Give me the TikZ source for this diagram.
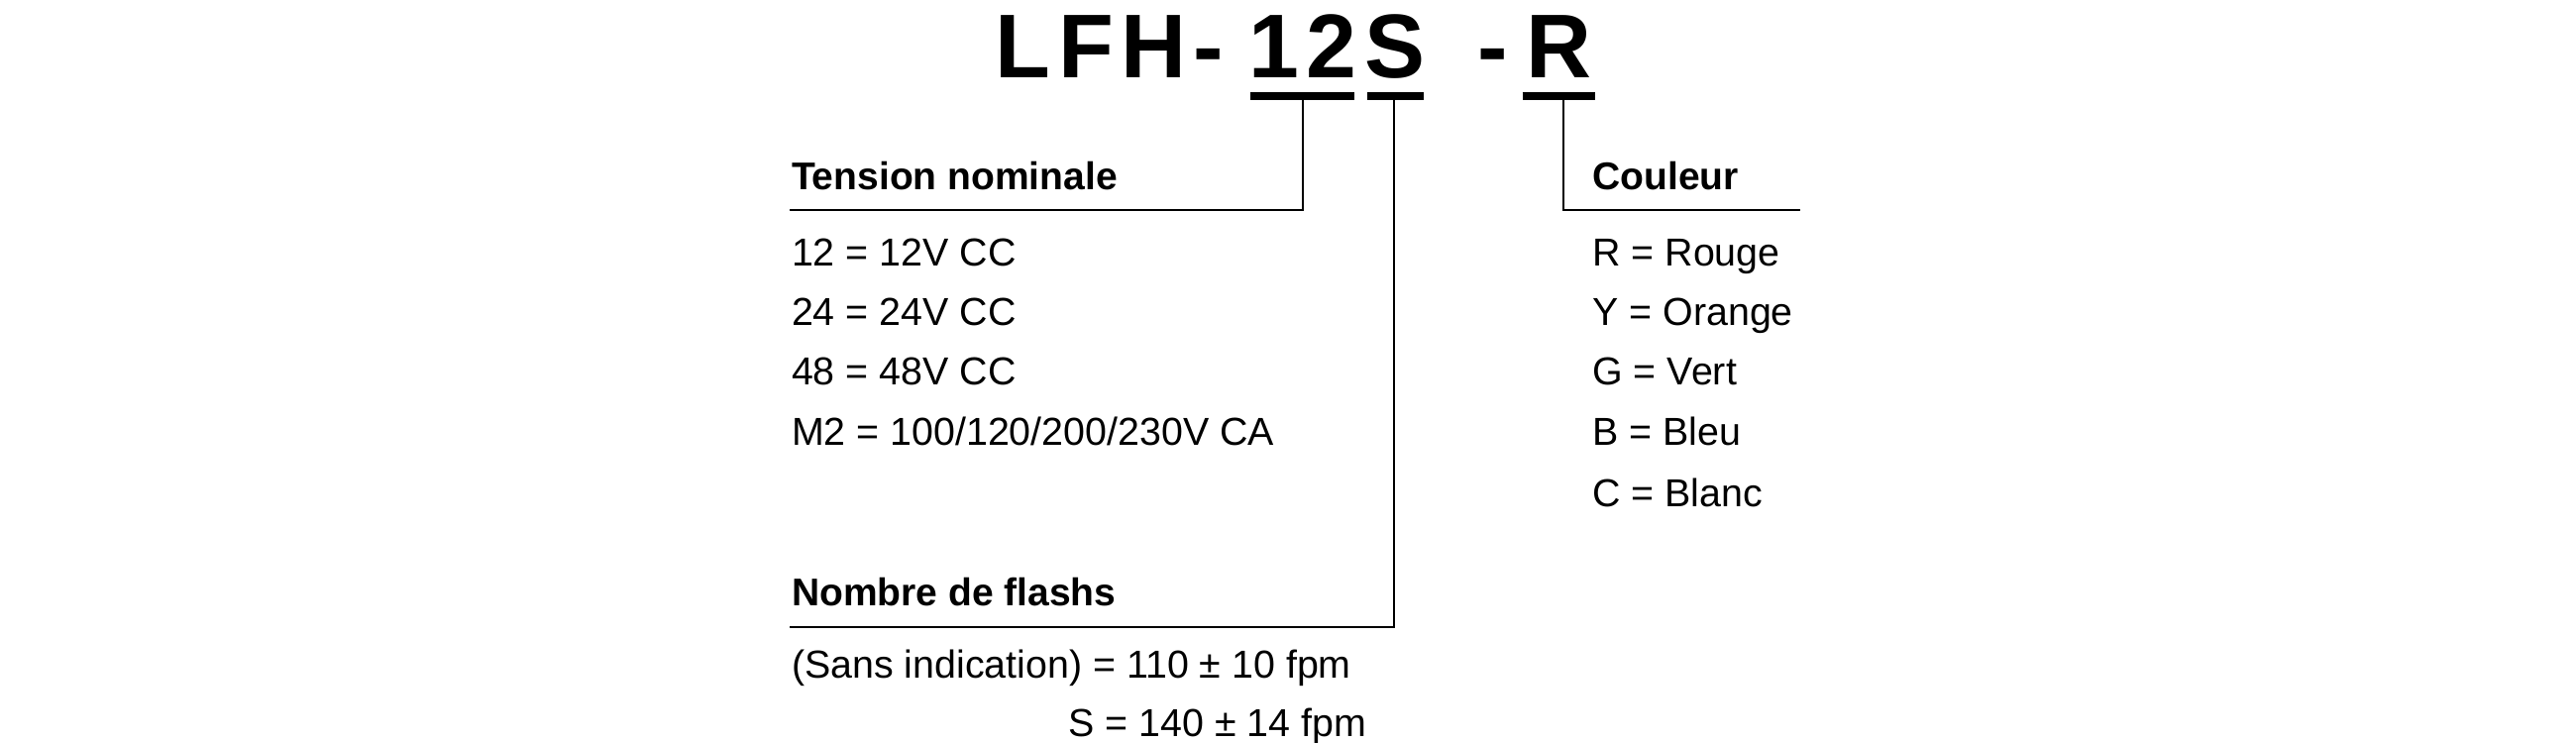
\documentclass[tikz,border=0pt]{standalone}
\usepackage{fontspec}
\setmainfont{Liberation Sans}
\newfontfamily\titlefont[LetterSpace=8]{Liberation Sans}
\usetikzlibrary{positioning}
\tikzset{
  codepart/.style={inner sep=0pt,anchor=base,font=\titlefont\bfseries\fontsize{26}{26}\selectfont},
  head/.style={inner sep=0pt,anchor=base west,font=\bfseries\fontsize{11.1}{13}\selectfont},
  item/.style={inner sep=0pt,anchor=base west,font=\fontsize{11.2}{13}\selectfont},
  lead/.style={line width=0.6pt},
  uline/.style={line width=2.2pt}
}
\begin{document}
\begin{tikzpicture}[x=0.016667cm,y=-0.016667cm]
    \useasboundingbox (0,0) rectangle (1560,450);
    % model code
    \node[codepart] (lfh) at (672,47) {LFH-};
    \node[codepart] (twelve) at (789,47) {12};
    \node[codepart] (s) at (845,47) {S};
    \node[codepart] (dash) at (904,47) {-};
    \node[codepart] (r) at (944,47) {R};
    \coordinate (tw) at (757,58); \coordinate (te) at (820,58);
    \coordinate (sw) at (828,58); \coordinate (se) at (862,58);
    \coordinate (rw) at (922,58); \coordinate (re) at (966,58);
    \draw[uline] (tw) -- (te);
    \draw[uline] (sw) -- (se);
    \draw[uline] (rw) -- (re);
    % leaders
    \coordinate (t1) at (789,58); \coordinate (t2) at (789,127); \coordinate (t3) at (478,127);
    \coordinate (s1) at (844,58); \coordinate (s2) at (844,380); \coordinate (s3) at (478,380);
    \coordinate (r1) at (947,58); \coordinate (r2) at (947,127); \coordinate (r3) at (1090,127);
    \draw[lead] (t1) -- (t2) -- (t3);
    \draw[lead] (s1) -- (s2) -- (s3);
    \draw[lead] (r1) -- (r2) -- (r3);
    % voltage
    \node[head] (tension) at (479,115) {Tension nominale};
    \node[item] (v12) at (479,161) {12 = 12V CC};
    \node[item] (v24) at (479,197) {24 = 24V CC};
    \node[item] (v48) at (479,233) {48 = 48V CC};
    \node[item] (vm2) at (479,270) {M2 = 100/120/200/230V CA};
    % flashes
    \node[head] (flash) at (479,367) {Nombre de flashs};
    \node[item] (f110) at (479,411) {(Sans indication) = 110 ± 10 fpm};
    \node[item,anchor=base east] (f140) at (828,446) {S = 140 ± 14 fpm};
    % colour
    \node[head] (couleur) at (964,115) {Couleur};
    \node[item] (cr) at (964,161) {R = Rouge};
    \node[item] (cy) at (964,197) {Y = Orange};
    \node[item] (cg) at (964,233) {G = Vert};
    \node[item] (cb) at (964,270) {B = Bleu};
    \node[item] (cc) at (964,307) {C = Blanc};
\end{tikzpicture}
\end{document}
